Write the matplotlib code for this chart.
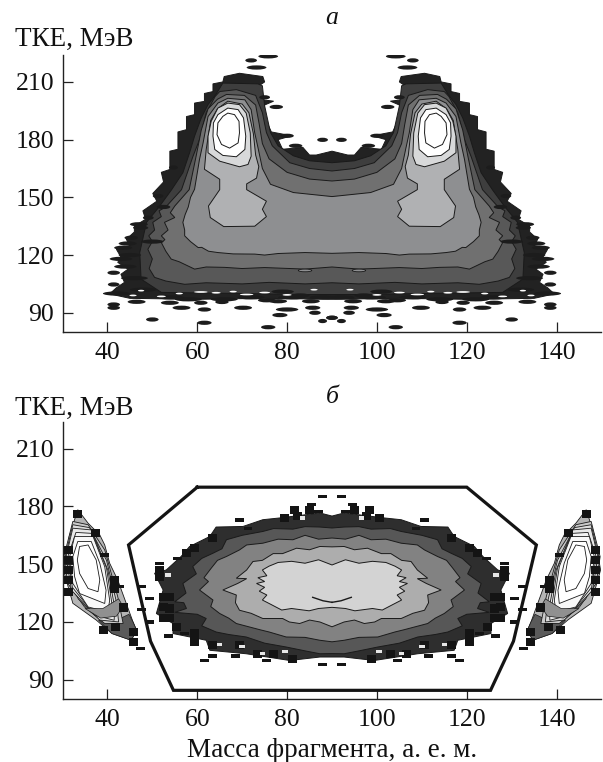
import matplotlib
matplotlib.use("Agg")
import matplotlib.pyplot as plt
from matplotlib.patches import Ellipse, Rectangle

plt.rcParams['font.family'] = ['Liberation Serif', 'DejaVu Serif']

W, H = 603, 762
ink = '#222222'
fs = 18.5

x_ticks = [40, 60, 80, 100, 120, 140]
y_ticks = [90, 120, 150, 180, 210]

# === panel a, left half of each level, centre top -> round the peak -> centre bottom ===
a_A_m = [90, 86.5, 85, 83.5, 79, 78, 81, 76.5, 75.4, 74.5, 75, 77, 73.5, 73.5, 75, 74.6, 69.4, 66, 65.7, 63.5, 63.5, 61.6, 61.6, 59.4, 59.4, 57.6, 57.6, 55.7, 55.7, 53.9, 53.9, 52, 52.5, 50.1, 51, 47.9, 48.5, 46, 46, 44.2, 45, 42, 43, 42.3, 44.6, 43, 43.8, 42, 40.5, 45, 60, 75, 90]
a_A_t = [174, 172, 172, 176, 175, 180, 182, 184, 189.5, 193, 198, 200, 201, 207.6, 210, 212.8, 214.5, 212.8, 210, 209, 205, 204, 199.9, 199, 193, 192, 185.2, 184, 175, 174, 164.5, 163, 158, 152, 148, 143, 138.6, 135, 132, 128.2, 125, 123, 119, 116.2, 112.7, 110, 105.8, 103, 99.8, 97.5, 97, 97.5, 97]
a_B_m = [90, 85, 81.4, 78, 76.3, 75, 74.5, 73.5, 65.7, 64.1, 62.4, 60.9, 59.4, 58.3, 56.8, 54.3, 51.5, 48.7, 47.2, 47.5, 52, 70, 84, 90]
a_B_t = [168, 169, 171.6, 176.8, 183.7, 197.6, 208, 209, 209.4, 203.3, 198.2, 191.3, 181.8, 173.2, 162.8, 154, 145, 137, 121.3, 107.5, 100.6, 100, 99.5, 99.5]
a_C_m = [90, 85, 80.6, 76.7, 75.4, 74.5, 73, 68.7, 65, 64, 62, 60.5, 59, 56.5, 53, 51.5, 52, 50.1, 50.5, 49.2, 50, 49, 50, 49.3, 50.5, 53, 57.2, 62, 70, 76, 84, 90]
a_C_t = [163.7, 165, 168, 176.8, 183.7, 194, 203, 206, 205, 202.5, 194, 180, 171, 154, 145, 143, 140, 137, 133, 130, 127, 123, 118, 113, 108.4, 106.5, 104.8, 105.6, 105, 105.8, 105, 105.6]
a_D_m = [90, 85, 80, 76, 74.5, 73.8, 73, 70.5, 66.5, 64.5, 62.4, 60.9, 59.8, 58.2, 55, 54, 55, 52.7, 53.5, 52, 52.8, 52, 53, 54.2, 56, 59.4, 62, 66.1, 70, 75, 84, 90]
a_D_t = [158.5, 159.5, 163, 170, 178, 188, 198, 203, 203.5, 201, 196, 185, 172, 154, 145.5, 142, 139.5, 137, 133, 130, 128, 126.5, 122, 117.9, 116.5, 112.7, 113.8, 113.6, 113, 113.5, 112.7, 113.8]
a_E_m = [90, 81.4, 76.3, 74.5, 73.6, 72.8, 72, 70.6, 66.8, 64.6, 62.4, 61.3, 60.5, 59.4, 58.5, 58, 57.3, 56.8, 57.2, 57.2, 58.5, 60.2, 61, 62.5, 64.6, 68, 72.8, 75, 78, 84, 90]
a_E_t = [150.4, 152.5, 156.8, 165, 175, 183.5, 195.6, 200.7, 201.5, 199, 192, 178.3, 169.7, 154.2, 150, 145, 141, 137, 133, 130, 127, 123.9, 124, 122, 121.3, 120.6, 120.5, 120, 120.8, 121.3, 120.9]

# closed levels round the left peak
a_F_m = [66.8, 70, 71.5, 72.5, 73, 73.7, 73.2, 71, 71, 75.4, 74.5, 75.4, 72.8, 65.9, 62.9, 62.5, 65, 65, 61.6, 62, 63, 64.5]
a_F_t = [200, 198.5, 194, 183, 172, 166, 160, 157, 154, 148, 143.8, 140, 135, 134.8, 139.5, 145.5, 154, 159.4, 164.6, 175, 190, 196]
a_G_m = [66.8, 69.4, 70.9, 71.8, 72, 71.3, 69.4, 65, 62.4, 62.4, 63.1, 64.6]
a_G_t = [199, 198.2, 193.8, 183.5, 171.4, 167.1, 165.9, 168.8, 173.2, 181.8, 189.5, 196.4]
a_I_m = [66.8, 69.1, 70.3, 70.8, 70.6, 68.7, 65.7, 63.9, 63.5, 63.6, 64.6]
a_I_t = [196.4, 195.6, 191.3, 181.8, 174.9, 171.1, 171.8, 174.9, 181.8, 188.7, 193]
a_core_m = [66.8, 68.3, 69.3, 69.4, 69.1, 67.2, 65.4, 64.4, 64.6, 65.7]
a_core_t = [193.8, 193, 189.5, 183.5, 178.3, 175.6, 177.5, 182.6, 188.7, 192.1]

# isolated blobs: mass, TKE, half width in mass
a_blob_m = [75.8, 72, 73.2, 77.6, 75, 87.9, 80, 81.9, 50, 61.6, 75.8, 41.4, 41.4, 46.5, 53.9, 56.5, 61.6, 60.8, 65.5, 70.2, 78, 80, 78.4, 85.7, 86.2, 87.9, 90, 85.3, 41.4, 41.4, 43.5, 45.3, 47.4, 49.1, 51.3, 54.7,
            43, 44, 46, 48, 50, 42, 45, 72, 66, 81, 88, 54, 58, 47, 52.5, 44.5, 79, 75.5, 83]
a_blob_t = [223.3, 221.2, 217.5, 197, 202, 179.9, 182, 176.8, 86.5, 84.8, 82.5, 94.3, 92.6, 95.7, 95.2, 92.6, 91.7, 95.2, 95.6, 92.6, 96, 91.7, 88.8, 92.6, 90, 85.7, 87.4, 96, 110.8, 104.7, 123.8, 129, 134.2, 139.4, 150.7, 165.5,
            118, 114, 108, 102, 127, 100, 120, 98, 97, 98, 98, 98, 97, 136, 145, 126, 101, 96.5, 99]
a_blob_w = [2.2, 1.3, 2.2, 1.5, 1.2, 1.2, 1.5, 1.5, 1.4, 1.6, 1.6, 1.4, 1.4, 2, 2, 2, 1.5, 1.5, 1.5, 2, 2, 2.5, 1.7, 1.7, 1.3, 1, 1.3, 2, 1.4, 1.3, 2, 1.5, 1.7, 1.2, 1.2, 1,
            2.5, 2.5, 3, 3, 2.5, 3, 2.5, 3, 3, 3, 3, 3, 3, 2, 1.5, 2, 2.5, 2, 2]
a_speck_m = [60.8, 71, 45.7, 64.2, 86, 52, 56, 75, 80, 47.5, 68]
a_speck_t = [100.8, 99.5, 99, 100.4, 102, 98.5, 100, 100.5, 99.3, 101.5, 101]
a_speck_w = [1.5, 1.5, 0.8, 1, 0.8, 1, 0.8, 1.2, 1, 0.7, 0.8]

# === panel б, centre body, left half ===
b_A_m = [90, 87.3, 78.3, 74.6, 70.2, 64.2, 62.8, 58.3, 56.4, 53.1, 50.5, 52.4, 50.9, 54.6, 54.6, 62, 62.8, 70.9, 80.6, 87.3, 90]
b_A_t = [175, 176.6, 174, 173.1, 169.6, 169.3, 164.4, 159.2, 154, 147, 145.3, 136.6, 124.4, 119.2, 114, 110.5, 105.3, 103.5, 100, 101.8, 101.8]
b_B_m = [90, 87.3, 84, 81.3, 77, 74.6, 70, 66.5, 65.5, 63.5, 61, 59, 59.8, 56.8, 57.5, 55, 57, 57.6, 55, 60, 62, 61, 64.2, 67, 70.9, 75, 79.8, 84, 87.3, 90]
b_B_t = [168.8, 169.3, 169.5, 168.2, 168.5, 167, 165, 162.7, 158, 155.7, 153, 148.8, 145, 140, 135, 130.5, 130, 127, 125, 124, 121.8, 118, 114.8, 113.5, 112.2, 109, 107, 105, 103.5, 103.6]
b_C_m = [90, 87, 84, 81.3, 78, 74.6, 71, 69.4, 66.5, 64.5, 63.1, 61.5, 62.5, 60.5, 63.5, 63, 65, 67, 68.7, 73.9, 76, 79.8, 84, 87.3, 90]
b_C_t = [163.6, 163, 165, 162.7, 163, 160.9, 160, 157.4, 154, 152, 147.9, 143, 141, 136.6, 131.4, 128, 124.4, 122, 119.2, 116, 114.8, 112.2, 112, 110.5, 109.7]
b_G_m = [90, 87.3, 85, 82.1, 79, 76.9, 74.5, 72.4, 71, 68.7, 71, 69, 65.7, 68.7, 68.5, 69.4, 72, 74.6, 79, 80.5, 82.8, 85, 87.3, 90]
b_G_t = [159, 159.2, 157.5, 158.3, 155.5, 155.5, 152, 151.4, 147, 142.7, 142.5, 140, 136.6, 134, 130, 126.1, 124.5, 121.8, 121.8, 120, 119.2, 121, 120, 117.5]
b_H_m = [90, 87, 84, 81, 78, 76, 74.5, 75.5, 73.5, 75, 73.2, 75, 73.8, 75.5, 74.5, 76.5, 78.8, 81, 84.9, 87, 90]
b_H_t = [149.6, 152.3, 150.5, 151.5, 150.9, 149, 147, 144, 143, 141, 140, 138, 136, 134, 131.4, 129, 126.2, 127, 125.8, 127, 127.6]
b_wing_m = [85.7, 88, 90]
b_wing_t = [132.8, 131, 130.2]

# detector acceptance
hull_m = [60, 120, 135.5, 130.4, 125.3, 54.7, 49.6, 44.7, 60]
hull_t = [190, 190, 160, 110, 84.5, 84.5, 110, 160, 190]

# side islands
isl_out_m = [33.4, 35.7, 38.3, 39.4, 40.5, 42.3, 44.2, 45.7, 46.5, 45.3, 41, 37.5, 32.3, 30.2, 31.5]
isl_out_t = [178.3, 171.3, 165.2, 160, 150.5, 141.8, 129.6, 120, 115.7, 110.5, 114, 121, 129.7, 147, 164.4]
isl_c4_m = [32.3, 35.7, 39.4, 42.3, 43.5, 39.4, 34.9, 31.2, 30.3]
isl_c4_t = [172.2, 170.5, 157.4, 133.1, 119.2, 119.2, 127.8, 140, 153.9]
isl_l2_m = [32.3, 36, 39.8, 42, 42.5, 38.3, 33.5, 30.6]
isl_l2_t = [170.5, 169, 152, 130.5, 120, 121, 132, 154]
isl_c3_m = [32.3, 36.4, 40.1, 41.6, 41.5, 37.2, 32, 30.8]
isl_c3_t = [168.7, 167.8, 147, 127.8, 120.9, 123.5, 136.5, 153.9]
isl_l1_m = [33, 36.6, 39.8, 41, 40.8, 36.5, 32.2, 31.2]
isl_l1_t = [166.5, 166, 148, 129.5, 123, 125.5, 138, 154]
isl_c2_m = [32.7, 36.8, 39.4, 40.5, 40.1, 35.7, 32.3, 31.6]
isl_c2_t = [164.4, 164.4, 148.7, 131.3, 125.2, 127.8, 140, 153.9]
isl_c1_m = [33.8, 39.4, 39.7, 38.3, 36.4, 33.4, 32.3, 32.7]
isl_c1_t = [134.8, 129.6, 136.5, 150.5, 161.8, 161.8, 153.9, 143.5]
isl_core_m = [33.8, 35.7, 37.5, 38.3, 37.9, 35.7, 33.8, 33.3]
isl_core_t = [159.2, 160, 152.2, 141.8, 135.7, 137.4, 145.2, 152.2]
isl_tail1_m = [38, 41, 45.3, 46.5, 45.7, 44.8, 43, 41]
isl_tail1_t = [121, 114, 110.5, 115.7, 120, 124, 122, 119]
isl_tail2_m = [35, 38.5, 42, 43.5, 42.5, 39]
isl_tail2_t = [127, 122, 123, 128, 132, 127]

# black cells
b_sq_m = [51.6, 51.6, 52.4, 52.4, 52.4, 53.9, 53.9, 53.9, 57.6, 59.4, 63.5, 55.3, 59.4, 59.4, 63.5, 69.4, 73.5, 76.9, 81.3, 79.5, 81.7, 85, 82.3,
          33.4, 37.3, 31.4, 31.4, 31.4, 31.4, 31.4, 41.5, 41.5, 43.5, 39.2, 45.7, 45.7, 41.8]
b_sq_t = [147, 143.5, 133, 128, 122, 133, 127, 122, 155.7, 158.3, 163.5, 117.5, 114, 109.6, 107.9, 107.9, 103.5, 103.5, 101, 174, 178.3, 178.3, 175,
          176, 166.1, 157.4, 152.2, 147, 141.8, 135.7, 141.8, 137.4, 127.5, 115.7, 114.9, 109.7, 117.5]
b_dash_m = [87.9, 87.9, 51.5, 47.5, 49.4, 47.5, 49.4, 53.5, 57.2, 63.5, 61.6, 75.4, 69.4, 71.3, 85.4, 86.9, 68.5, 55.6, 59.5, 39.4, 42.7, 47.4]
b_dash_t = [185.1, 98, 150.5, 138.3, 132.2, 126.5, 120, 112.7, 114, 102.3, 100, 100, 173, 168.4, 181, 177.5, 102.3, 153.1, 108.8, 154.8, 138.6, 106.2]
b_white_m = [53.5, 65, 83.5, 70, 74.5, 79.5]
b_white_t = [144.4, 108.2, 174, 107.5, 103.5, 104.5]


def mirror(m):
    return [180 - v for v in m]


def half_level(ax, m, t, color):
    # the whole level from its left half and the reflection about mass 90
    ax.fill(m + mirror(m)[::-1], t + t[::-1], fc=color, ec='#1a1a1a', lw=0.7)


def both_sides(ax, m, t, color, lw=0.7):
    ax.fill(m, t, fc=color, ec='#1a1a1a', lw=lw)
    ax.fill(mirror(m), t, fc=color, ec='#1a1a1a', lw=lw)


def cell(ax, m, t, w, h, color):
    for c in (m, 180 - m):
        ax.add_patch(Rectangle((c - w / 2, t - h / 2), w, h, fc=color, ec='none', zorder=3))


def setup(ax, title_y, label_y, title):
    ax.set_xlim(30, 150)
    ax.set_ylim(80, 224)
    ax.spines['top'].set_visible(False)
    ax.spines['right'].set_visible(False)
    for s in ['left', 'bottom']:
        ax.spines[s].set_linewidth(1.0)
        ax.spines[s].set_color(ink)
    ax.set_xticks(x_ticks)
    ax.set_yticks(y_ticks)
    ax.tick_params(direction='in', length=7, width=0.9, color=ink, labelsize=fs, labelcolor='#111111')
    ax.tick_params(axis='x', pad=7)
    ax.tick_params(axis='y', pad=6)
    fig.text(332 / W, 1 - title_y / H, title, style='italic', fontsize=fs, ha='center', va='center', color='#111111')
    fig.text(15 / W, 1 - label_y / H, 'ТКЕ, МэВ', fontsize=fs + 1, ha='left', va='center', color='#111111')


def make_axes(top, bottom):
    return fig.add_axes([62.5 / W, 1 - bottom / H, 539 / W, (bottom - top) / H])


fig = plt.figure(figsize=(6.03, 7.62), dpi=100)

# === Panel a ===
ax = make_axes(55, 332)
setup(ax, 18, 39, 'а')
for m, t, c in [(a_A_m, a_A_t, '#222222'), (a_B_m, a_B_t, '#3e3e3e'), (a_C_m, a_C_t, '#585858'),
                (a_D_m, a_D_t, '#707070'), (a_E_m, a_E_t, '#8e8f91')]:
    half_level(ax, m, t, c)
for m, t, c in [(a_F_m, a_F_t, '#b0b1b3'), (a_G_m, a_G_t, '#d8d9da'), (a_I_m, a_I_t, '#ffffff'),
                (a_core_m, a_core_t, '#ffffff')]:
    both_sides(ax, m, t, c)
for mm, tt, w in zip(a_blob_m, a_blob_t, a_blob_w):
    for c in (mm, 180 - mm):
        ax.add_patch(Ellipse((c, tt), 2 * w, 2.2, fc='#1c1c1c', ec='none'))
for mm, tt, w in zip(a_speck_m, a_speck_t, a_speck_w):
    for c in (mm, 180 - mm):
        ax.add_patch(Ellipse((c, tt), 2 * w, 0.9, fc='white', ec='none'))
for c in (84, 96):
    ax.add_patch(Ellipse((c, 112), 3, 1.4, fc='#8e8f91', ec='#1a1a1a', lw=0.6))

# === Panel б ===
ax = make_axes(421.7, 699)
setup(ax, 397, 408, 'б')
both_sides(ax, isl_out_m, isl_out_t, '#b5b5b5', 0.6)
both_sides(ax, isl_tail1_m, isl_tail1_t, '#5a5a5a', 0.5)
for m, t, c in [(isl_c4_m, isl_c4_t, '#c9c9c9'), (isl_l2_m, isl_l2_t, '#dcdcdc'), (isl_c3_m, isl_c3_t, '#e8e8e8'),
                (isl_l1_m, isl_l1_t, '#f2f2f2'), (isl_c2_m, isl_c2_t, '#f8f8f8'), (isl_c1_m, isl_c1_t, '#ffffff'),
                (isl_core_m, isl_core_t, '#ffffff')]:
    both_sides(ax, m, t, c, 0.6)
both_sides(ax, isl_tail2_m, isl_tail2_t, '#909090', 0.5)
for m, t, c in [(b_A_m, b_A_t, '#2e2e2e'), (b_B_m, b_B_t, '#575757'), (b_C_m, b_C_t, '#828282'),
                (b_G_m, b_G_t, '#adadad'), (b_H_m, b_H_t, '#d3d3d3')]:
    half_level(ax, m, t, c)
ax.plot(b_wing_m, b_wing_t, color='#1a1a1a', lw=1.0)
ax.plot(mirror(b_wing_m), b_wing_t, color='#1a1a1a', lw=1.0)
for mm, tt in zip(b_sq_m, b_sq_t):
    cell(ax, mm, tt, 2.0, 4.2, '#141414')
for mm, tt in zip(b_dash_m, b_dash_t):
    cell(ax, mm, tt, 2.0, 1.7, '#141414')
for mm, tt in zip(b_white_m, b_white_t):
    cell(ax, mm, tt, 1.2, 1.6, '#e6e6e6')
ax.plot(hull_m, hull_t, color='#141414', lw=2.3, solid_joinstyle='miter', zorder=4)
ax.set_xlabel('Масса фрагмента, а. е. м.', fontsize=fs + 1, color='#111111', labelpad=5)

fig.savefig('out.png', dpi=100)
